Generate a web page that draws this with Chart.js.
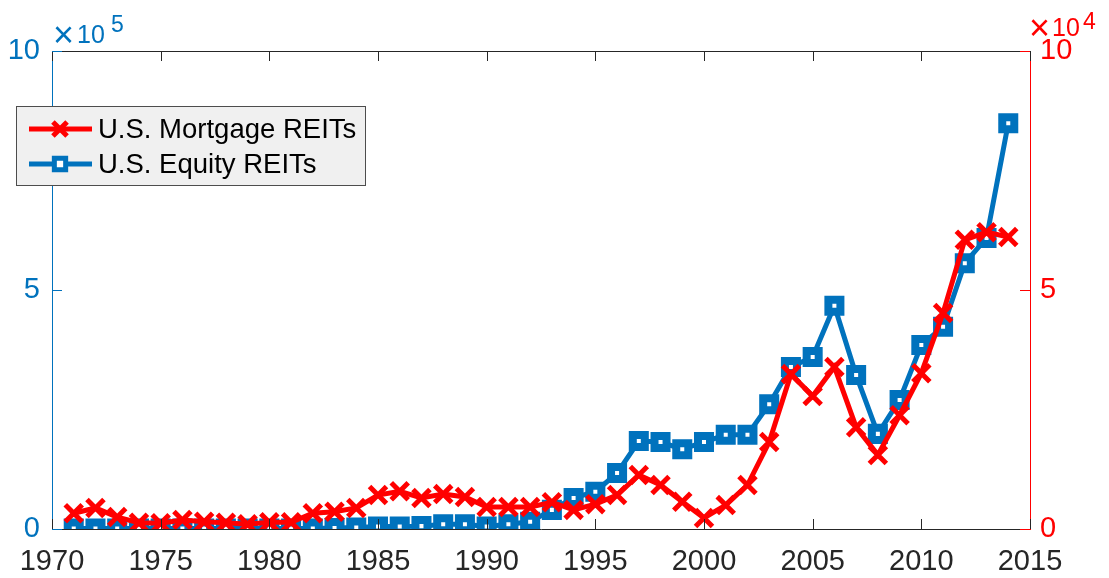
<!DOCTYPE html>
<html>
<head>
<meta charset="utf-8">
<script src="https://cdn.jsdelivr.net/npm/chart.js@4.4.1/dist/chart.umd.min.js"></script>
<style>
  html, body { margin: 0; padding: 0; background: #fff; }
  #wrap { width: 1109px; height: 578px; }
</style>
</head>
<body>
<div id="wrap"><canvas id="reitChart" width="1109" height="578"></canvas></div>
<script>
const years = [1971, 1972, 1973, 1974, 1975, 1976, 1977, 1978, 1979, 1980,
    1981, 1982, 1983, 1984, 1985, 1986, 1987, 1988, 1989, 1990,
    1991, 1992, 1993, 1994, 1995, 1996, 1997, 1998, 1999, 2000,
    2001, 2002, 2003, 2004, 2005, 2006, 2007, 2008, 2009, 2010,
    2011, 2012, 2013, 2014];
const mortgageREITs = [3300, 4400, 2500, 1300, 1200, 1900, 1500, 1300, 1000, 1400,
    1400, 3300, 3600, 4400, 7100, 7900, 6500, 7300, 6700, 4600,
    4600, 4600, 5600, 4000, 5200, 7100, 11300, 9200, 5700, 2300,
    5000, 9200, 18200, 32400, 27800, 33900, 21300, 15500, 23800, 32600,
    45200, 60500, 62100, 61100];
const equityREITs = [1000, 1000, 1000, 1000, 1000, 1000, 1000, 1000, 1000, 1000,
    1000, 1000, 2000, 3000, 5000, 5000, 6000, 10000, 10000, 5000,
    10000, 15000, 40000, 65000, 78000, 117000, 184000, 182000, 167000, 182000,
    197000, 197000, 261000, 339000, 360000, 467000, 322000, 199000, 270000, 385000,
    423000, 556000, 609000, 849000];
const xTicks = [1970, 1975, 1980, 1985, 1990, 1995, 2000, 2005, 2010, 2015];
const seriesNames = ['U.S. Mortgage REITs', 'U.S. Equity REITs'];

const BLUE = '#0072BD';
const RED = '#FF0000';
const GREY = '#262626';
const FONT = '"Liberation Sans", Arial, sans-serif';

const framePlugin = {
    id: 'frame',
    afterDatasetsDraw(chart) {
        const { ctx, chartArea: a, scales } = chart;
        ctx.save();
        ctx.lineWidth = 1;
        // top line
        ctx.strokeStyle = GREY;
        ctx.beginPath();
        ctx.moveTo(a.left, a.top + 0.5);
        ctx.lineTo(a.right, a.top + 0.5);
        ctx.stroke();
        // inward ticks on bottom and top
        xTicks.forEach(v => {
            const px = Math.round(scales.x.getPixelForValue(v)) + 0.5;
            ctx.beginPath();
            ctx.moveTo(px, a.bottom);
            ctx.lineTo(px, a.bottom - 10);
            ctx.moveTo(px, a.top);
            ctx.lineTo(px, a.top + 10);
            ctx.stroke();
        });
        // left ticks
        ctx.strokeStyle = BLUE;
        [0, 5e5, 1e6].forEach(v => {
            const py = Math.round(scales.y.getPixelForValue(v)) + 0.5;
            ctx.beginPath();
            ctx.moveTo(a.left, py);
            ctx.lineTo(a.left + 10, py);
            ctx.stroke();
        });
        // right ticks
        ctx.strokeStyle = RED;
        [0, 5e4, 1e5].forEach(v => {
            const py = Math.round(scales.y1.getPixelForValue(v)) + 0.5;
            ctx.beginPath();
            ctx.moveTo(a.right, py);
            ctx.lineTo(a.right - 10, py);
            ctx.stroke();
        });

        // exponent labels
        ctx.textBaseline = 'alphabetic';
        ctx.textAlign = 'left';
        ctx.fillStyle = BLUE;
        ctx.font = '36px ' + FONT;
        ctx.fillText('\u00d7', 53, 47);
        ctx.font = '25px ' + FONT;
        ctx.fillText('10', 77, 43);
        ctx.font = '23px ' + FONT;
        ctx.fillText('5', 111, 32);
        ctx.fillStyle = RED;
        ctx.font = '36px ' + FONT;
        ctx.fillText('\u00d7', 1029, 40);
        ctx.font = '25px ' + FONT;
        ctx.fillText('10', 1052, 36);
        ctx.font = '23px ' + FONT;
        ctx.fillText('4', 1083, 29);

        // legend box
        const lx = 16.5, ly = 106.5, lw = 349, lh = 79;
        ctx.fillStyle = '#f0f0f0';
        ctx.fillRect(lx, ly, lw, lh);
        ctx.lineWidth = 1;
        ctx.strokeStyle = '#4d4d4d';
        ctx.strokeRect(lx, ly, lw, lh);
        const rows = [
            { y: 129, color: RED, style: 'crossRot', r: 10, bw: 5, fill: RED },
            { y: 164, color: BLUE, style: 'rect', r: 8, bw: 8, fill: '#ffffff' }
        ];
        rows.forEach((row, i) => {
            ctx.strokeStyle = row.color;
            ctx.lineWidth = 5;
            ctx.beginPath();
            ctx.moveTo(29, row.y);
            ctx.lineTo(92, row.y);
            ctx.stroke();
            ctx.fillStyle = row.fill;
            Chart.helpers.drawPoint(ctx, {
                pointStyle: row.style, radius: row.r, borderWidth: row.bw, rotation: 0
            }, 60, row.y);
            ctx.fillStyle = '#000000';
            ctx.font = '27.5px ' + FONT;
            ctx.textBaseline = 'middle';
            ctx.fillText(seriesNames[i], 98, row.y + 1);
        });
        ctx.restore();
    }
};

const ctx = document.getElementById('reitChart').getContext('2d');
const chart = new Chart(ctx, {
    type: 'line',
    data: {
        datasets: [
            {
                label: seriesNames[0],
                data: years.map((yr, i) => ({ x: yr, y: mortgageREITs[i] })),
                yAxisID: 'y1',
                borderColor: RED,
                borderWidth: 5,
                pointStyle: 'crossRot',
                pointRadius: 12,
                pointBorderWidth: 5,
                pointBorderColor: RED,
                pointBackgroundColor: RED,
                tension: 0,
            },
            {
                label: seriesNames[1],
                data: years.map((yr, i) => ({ x: yr, y: equityREITs[i] })),
                yAxisID: 'y',
                borderColor: BLUE,
                borderWidth: 5,
                pointStyle: 'rect',
                pointRadius: 8.5,
                pointBorderWidth: 8,
                pointBorderColor: BLUE,
                pointBackgroundColor: '#ffffff',
                tension: 0,
            },
        ],
    },
    options: {
        responsive: false,
        animation: false,
        layout: { padding: { top: 51, left: 0, right: 0, bottom: 0 } },
        plugins: { legend: { display: false }, tooltip: { enabled: false } },
        scales: {
            x: {
                type: 'linear',
                min: 1970,
                max: 2015,
                afterBuildTicks: (scale) => { scale.ticks = xTicks.map(v => ({ value: v })); },
                afterFit: (scale) => { scale.height = 49; },
                ticks: {
                    color: GREY,
                    font: { family: FONT, size: 29 },
                    padding: 16,
                    maxRotation: 0,
                    callback: (v) => String(v),
                },
                grid: { drawOnChartArea: false, drawTicks: false },
                border: { color: GREY, width: 1 },
            },
            y: {
                position: 'left',
                min: 0,
                max: 1e6,
                afterBuildTicks: (scale) => { scale.ticks = [0, 5e5, 1e6].map(v => ({ value: v })); },
                afterFit: (scale) => { scale.width = 52; },
                ticks: {
                    color: BLUE,
                    font: { family: FONT, size: 29 },
                    padding: 12,
                    callback: (v) => String(v / 1e5),
                },
                grid: { drawOnChartArea: false, drawTicks: false },
                border: { color: BLUE, width: 1 },
            },
            y1: {
                position: 'right',
                min: 0,
                max: 1e5,
                afterBuildTicks: (scale) => { scale.ticks = [0, 5e4, 1e5].map(v => ({ value: v })); },
                afterFit: (scale) => { scale.width = 79; },
                ticks: {
                    color: RED,
                    font: { family: FONT, size: 29 },
                    padding: 10,
                    callback: (v) => String(v / 1e4),
                },
                grid: { drawOnChartArea: false, drawTicks: false },
                border: { color: RED, width: 1 },
            },
        },
    },
    plugins: [framePlugin],
});
</script>
</body>
</html>
